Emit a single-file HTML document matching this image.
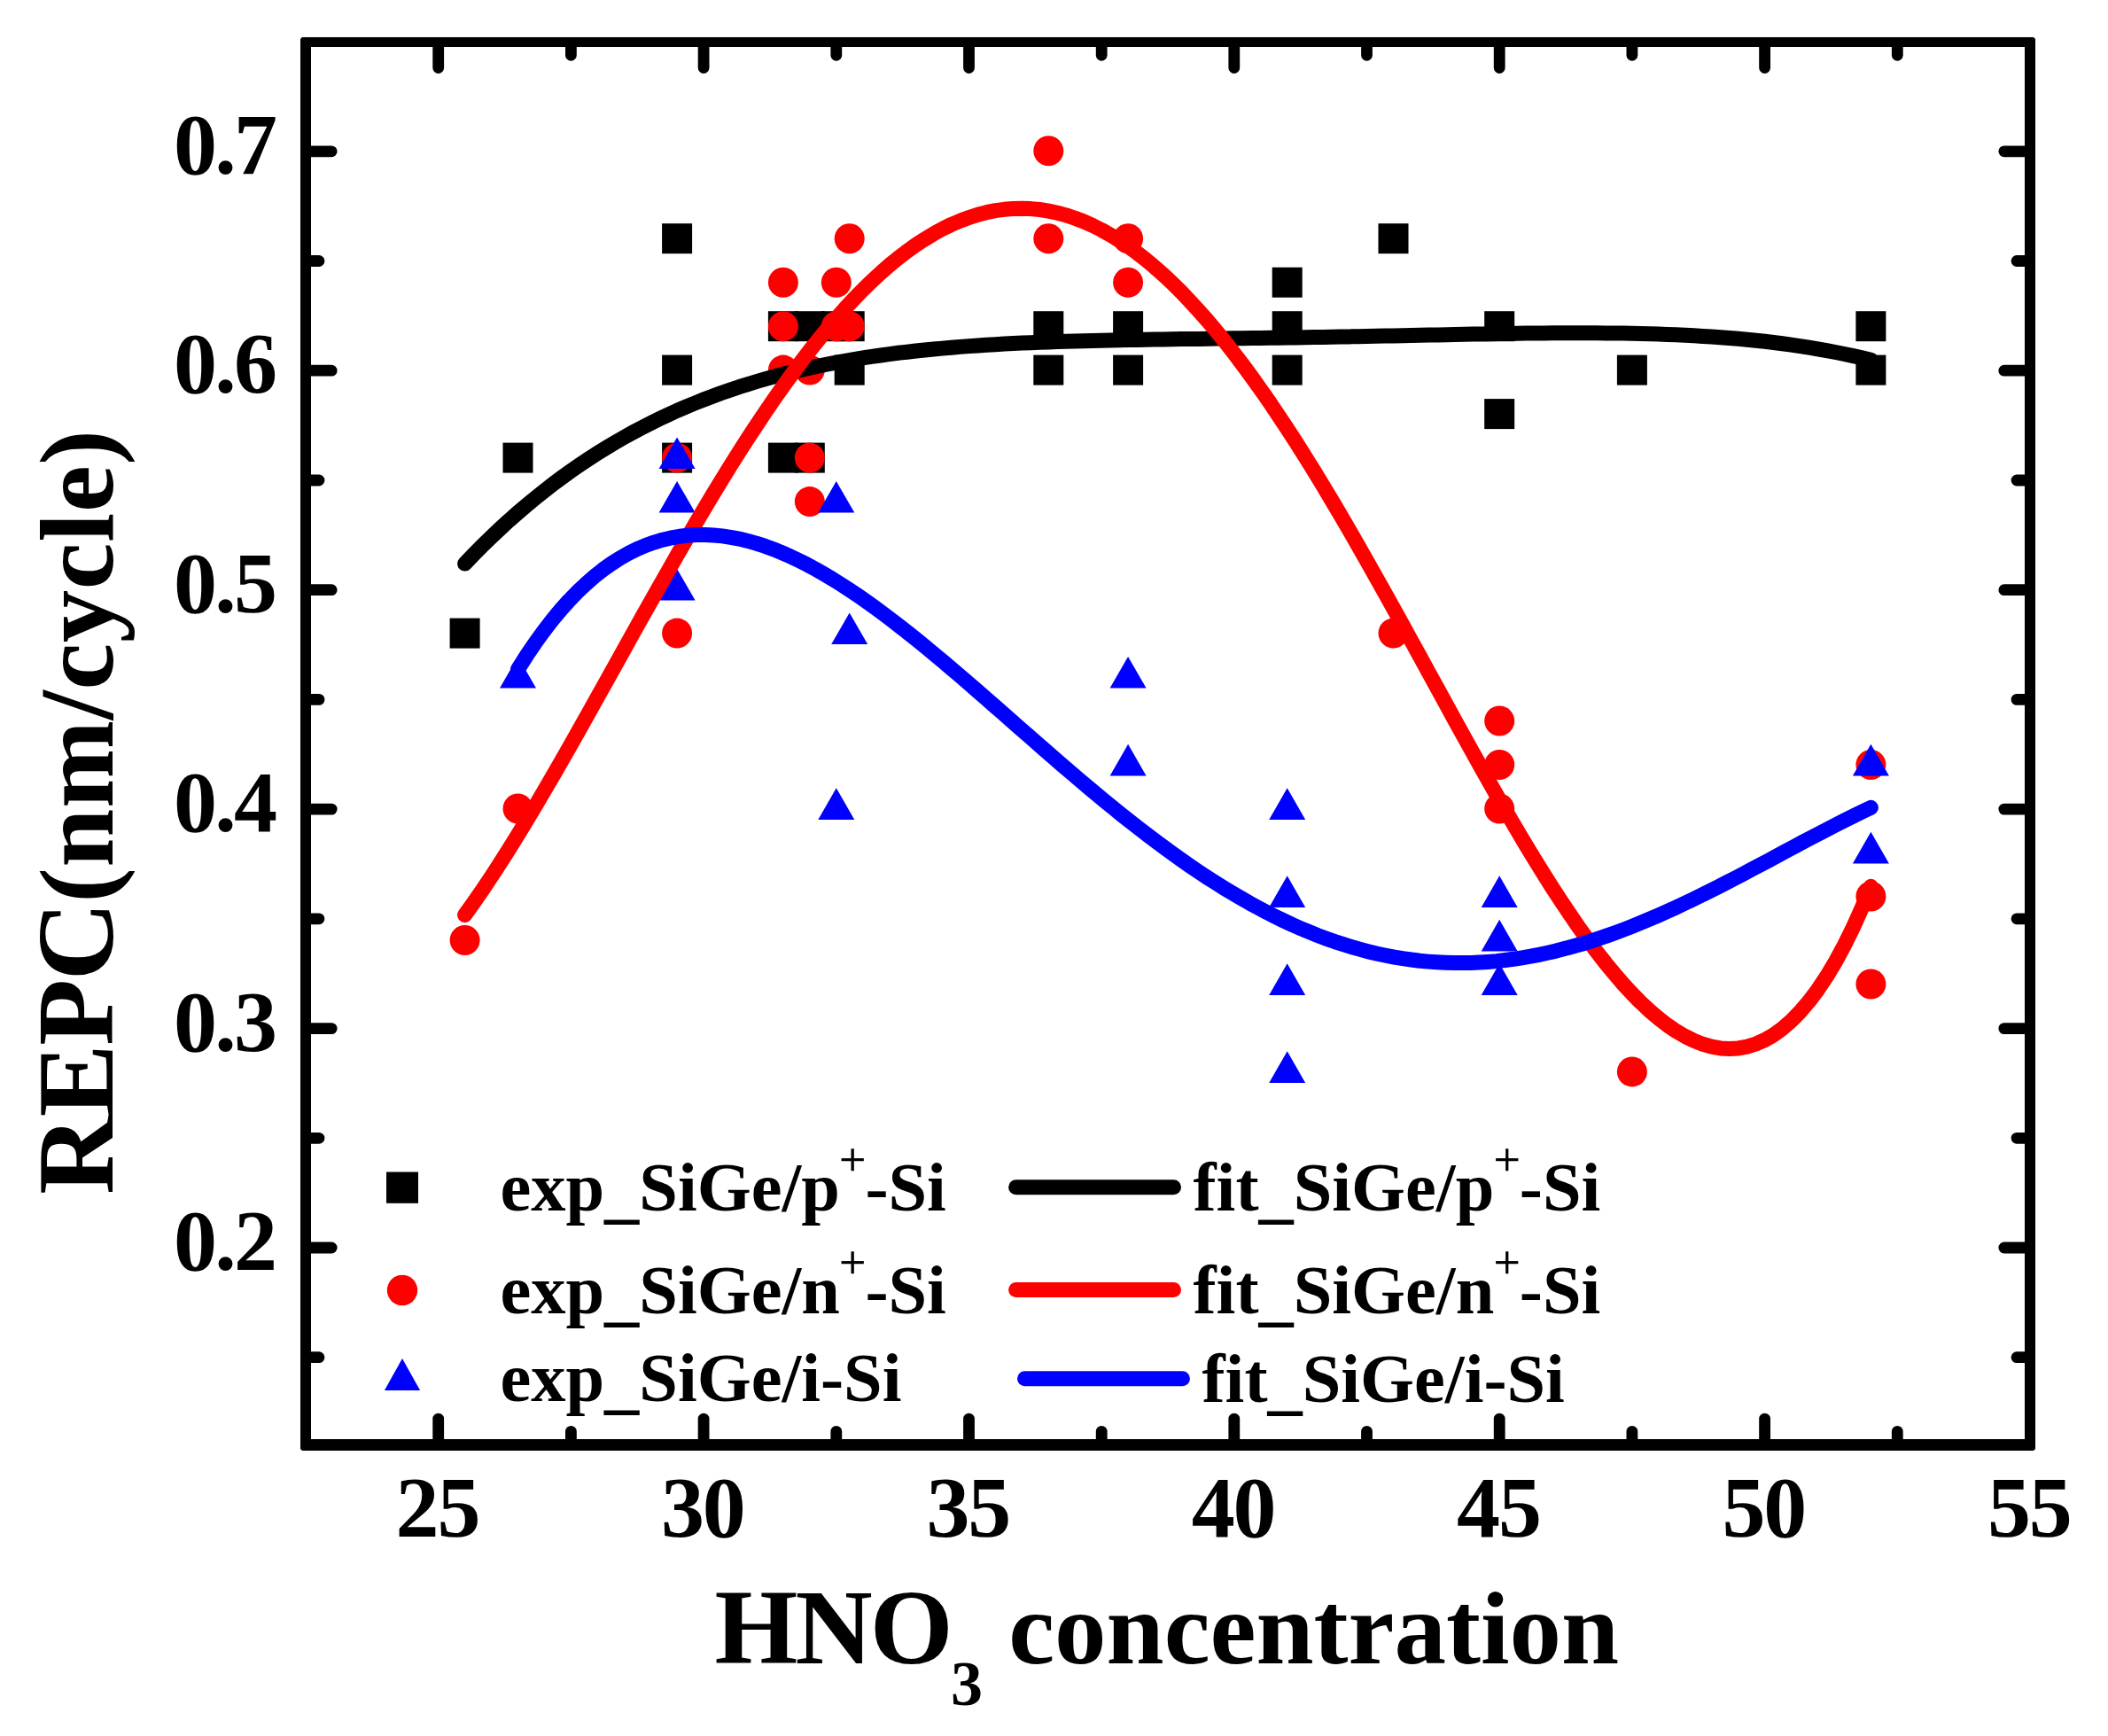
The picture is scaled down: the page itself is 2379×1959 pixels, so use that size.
<!DOCTYPE html>
<html lang="en"><head><meta charset="utf-8"><title>REPC vs HNO3 concentration</title>
<style>html,body{margin:0;padding:0;background:#fff}svg{display:block}text{font-family:"Liberation Serif","Times New Roman",serif;font-weight:bold;fill:#000;font-variant-ligatures:none;font-kerning:none}</style></head><body>
<svg width="2379" height="1959" viewBox="0 0 2379 1959">
<title>REPC(nm/cycle) versus HNO3 concentration</title>
<desc>Scatter plot with polynomial fits. X axis: HNO3 concentration, ticks 25 30 35 40 45 50 55. Y axis: REPC(nm/cycle), ticks 0.2 0.3 0.4 0.5 0.6 0.7. Legend: exp_SiGe/p+-Si, exp_SiGe/n+-Si, exp_SiGe/i-Si, fit_SiGe/p+-Si, fit_SiGe/n+-Si, fit_SiGe/i-Si.</desc>
<rect width="2379" height="1959" fill="#fff"/>
<g stroke="#000" stroke-width="12.8" stroke-linecap="round" fill="none">
<path d="M494.7 1627.3V1601.1M494.7 50.3V76.5"/>
<path d="M644.4 1627.3V1615.3M644.4 50.3V62.3"/>
<path d="M794.1 1627.3V1601.1M794.1 50.3V76.5"/>
<path d="M943.8 1627.3V1615.3M943.8 50.3V62.3"/>
<path d="M1093.5 1627.3V1601.1M1093.5 50.3V76.5"/>
<path d="M1243.2 1627.3V1615.3M1243.2 50.3V62.3"/>
<path d="M1392.8 1627.3V1601.1M1392.8 50.3V76.5"/>
<path d="M1542.5 1627.3V1615.3M1542.5 50.3V62.3"/>
<path d="M1692.2 1627.3V1601.1M1692.2 50.3V76.5"/>
<path d="M1841.9 1627.3V1615.3M1841.9 50.3V62.3"/>
<path d="M1991.6 1627.3V1601.1M1991.6 50.3V76.5"/>
<path d="M2141.3 1627.3V1615.3M2141.3 50.3V62.3"/>
<path d="M348.0 1531.7H360.0M2288.0 1531.7H2276.0"/>
<path d="M348.0 1408.0H374.2M2288.0 1408.0H2261.8"/>
<path d="M348.0 1284.3H360.0M2288.0 1284.3H2276.0"/>
<path d="M348.0 1160.6H374.2M2288.0 1160.6H2261.8"/>
<path d="M348.0 1036.8H360.0M2288.0 1036.8H2276.0"/>
<path d="M348.0 913.1H374.2M2288.0 913.1H2261.8"/>
<path d="M348.0 789.4H360.0M2288.0 789.4H2276.0"/>
<path d="M348.0 665.7H374.2M2288.0 665.7H2261.8"/>
<path d="M348.0 542.0H360.0M2288.0 542.0H2276.0"/>
<path d="M348.0 418.2H374.2M2288.0 418.2H2261.8"/>
<path d="M348.0 294.5H360.0M2288.0 294.5H2276.0"/>
<path d="M348.0 170.8H374.2M2288.0 170.8H2261.8"/>
</g>
<g fill="#000">
<rect x="507.6" y="697.6" width="34" height="34"/>
<rect x="567.5" y="499.6" width="34" height="34"/>
<rect x="747.1" y="252.2" width="34" height="34"/>
<rect x="747.1" y="400.6" width="34" height="34"/>
<rect x="747.1" y="499.6" width="34" height="34"/>
<rect x="866.9" y="351.2" width="34" height="34"/>
<rect x="866.9" y="499.6" width="34" height="34"/>
<rect x="896.8" y="351.2" width="34" height="34"/>
<rect x="896.8" y="499.6" width="34" height="34"/>
<rect x="926.8" y="351.2" width="34" height="34"/>
<rect x="941.7" y="351.2" width="34" height="34"/>
<rect x="941.7" y="400.6" width="34" height="34"/>
<rect x="1166.3" y="351.2" width="34" height="34"/>
<rect x="1166.3" y="400.6" width="34" height="34"/>
<rect x="1256.1" y="351.2" width="34" height="34"/>
<rect x="1256.1" y="400.6" width="34" height="34"/>
<rect x="1435.7" y="301.7" width="34" height="34"/>
<rect x="1435.7" y="351.2" width="34" height="34"/>
<rect x="1435.7" y="400.6" width="34" height="34"/>
<rect x="1555.5" y="252.2" width="34" height="34"/>
<rect x="1675.2" y="351.2" width="34" height="34"/>
<rect x="1675.2" y="450.1" width="34" height="34"/>
<rect x="1824.9" y="400.6" width="34" height="34"/>
<rect x="2094.4" y="351.2" width="34" height="34"/>
<rect x="2094.4" y="400.6" width="34" height="34"/>
</g><g fill="#f00">
<circle cx="524.6" cy="1061.0" r="17"/>
<circle cx="584.5" cy="912.5" r="17"/>
<circle cx="764.1" cy="516.6" r="17"/>
<circle cx="764.1" cy="714.6" r="17"/>
<circle cx="883.9" cy="318.7" r="17"/>
<circle cx="883.9" cy="368.2" r="17"/>
<circle cx="883.9" cy="417.6" r="17"/>
<circle cx="913.8" cy="417.6" r="17"/>
<circle cx="913.8" cy="516.6" r="17"/>
<circle cx="913.8" cy="566.1" r="17"/>
<circle cx="943.8" cy="318.7" r="17"/>
<circle cx="943.8" cy="368.2" r="17"/>
<circle cx="958.7" cy="269.2" r="17"/>
<circle cx="958.7" cy="368.2" r="17"/>
<circle cx="1183.3" cy="170.2" r="17"/>
<circle cx="1183.3" cy="269.2" r="17"/>
<circle cx="1273.1" cy="269.2" r="17"/>
<circle cx="1273.1" cy="318.7" r="17"/>
<circle cx="1572.5" cy="714.6" r="17"/>
<circle cx="1692.2" cy="813.5" r="17"/>
<circle cx="1692.2" cy="863.0" r="17"/>
<circle cx="1692.2" cy="912.5" r="17"/>
<circle cx="1841.9" cy="1209.4" r="17"/>
<circle cx="2111.4" cy="863.0" r="17"/>
<circle cx="2111.4" cy="1011.5" r="17"/>
<circle cx="2111.4" cy="1110.5" r="17"/>
</g><g fill="#00f">
<path d="M584.5 740.9L605.0 776.6H564.0Z"/>
<path d="M764.1 493.4L784.6 529.1H743.6Z"/>
<path d="M764.1 542.9L784.6 578.6H743.6Z"/>
<path d="M764.1 641.9L784.6 677.6H743.6Z"/>
<path d="M943.8 542.9L964.3 578.6H923.3Z"/>
<path d="M958.7 691.4L979.2 727.1H938.2Z"/>
<path d="M943.8 889.3L964.3 925.0H923.3Z"/>
<path d="M1273.1 740.9L1293.6 776.6H1252.6Z"/>
<path d="M1273.1 839.8L1293.6 875.5H1252.6Z"/>
<path d="M1452.7 889.3L1473.2 925.0H1432.2Z"/>
<path d="M1452.7 988.3L1473.2 1024.0H1432.2Z"/>
<path d="M1452.7 1087.3L1473.2 1123.0H1432.2Z"/>
<path d="M1452.7 1186.2L1473.2 1221.9H1432.2Z"/>
<path d="M1692.2 988.3L1712.7 1024.0H1671.7Z"/>
<path d="M1692.2 1037.8L1712.7 1073.5H1671.7Z"/>
<path d="M1692.2 1087.3L1712.7 1123.0H1671.7Z"/>
<path d="M2111.4 839.8L2131.9 875.5H2090.9Z"/>
<path d="M2111.4 938.8L2131.9 974.5H2090.9Z"/>
</g>
<polyline points="524.6,636.1 534.6,625.7 544.6,615.6 554.6,605.9 564.5,596.5 574.5,587.3 584.5,578.5 594.5,570.0 604.5,561.7 614.4,553.8 624.4,546.1 634.4,538.6 644.4,531.4 654.4,524.5 664.3,517.9 674.3,511.4 684.3,505.2 694.3,499.3 704.3,493.5 714.2,488.0 724.2,482.7 734.2,477.6 744.2,472.7 754.2,468.0 764.1,463.4 774.1,459.1 784.1,455.0 794.1,451.0 804.1,447.2 814.0,443.5 824.0,440.1 834.0,436.7 844.0,433.6 854.0,430.5 863.9,427.6 873.9,424.9 883.9,422.3 893.9,419.8 903.9,417.4 913.8,415.2 923.8,413.0 933.8,411.0 943.8,409.1 953.7,407.3 963.7,405.6 973.7,403.9 983.7,402.4 993.7,401.0 1003.6,399.6 1013.6,398.3 1023.6,397.2 1033.6,396.0 1043.6,395.0 1053.5,394.0 1063.5,393.1 1073.5,392.2 1083.5,391.4 1093.5,390.6 1103.4,389.9 1113.4,389.3 1123.4,388.7 1133.4,388.1 1143.4,387.6 1153.3,387.1 1163.3,386.7 1173.3,386.3 1183.3,385.9 1193.3,385.6 1203.2,385.2 1213.2,384.9 1223.2,384.7 1233.2,384.4 1243.2,384.2 1253.1,384.0 1263.1,383.7 1273.1,383.6 1283.1,383.4 1293.1,383.2 1303.0,383.1 1313.0,382.9 1323.0,382.8 1333.0,382.6 1342.9,382.5 1352.9,382.4 1362.9,382.2 1372.9,382.1 1382.9,382.0 1392.8,381.8 1402.8,381.7 1412.8,381.6 1422.8,381.4 1432.8,381.3 1442.7,381.2 1452.7,381.0 1462.7,380.9 1472.7,380.7 1482.7,380.5 1492.6,380.4 1502.6,380.2 1512.6,380.0 1522.6,379.9 1532.6,379.7 1542.5,379.5 1552.5,379.3 1562.5,379.1 1572.5,378.9 1582.5,378.7 1592.4,378.5 1602.4,378.3 1612.4,378.1 1622.4,377.9 1632.4,377.7 1642.3,377.5 1652.3,377.3 1662.3,377.1 1672.3,376.9 1682.3,376.7 1692.2,376.6 1702.2,376.4 1712.2,376.3 1722.2,376.1 1732.1,376.0 1742.1,375.9 1752.1,375.8 1762.1,375.8 1772.1,375.7 1782.0,375.7 1792.0,375.7 1802.0,375.8 1812.0,375.9 1822.0,376.0 1831.9,376.1 1841.9,376.3 1851.9,376.5 1861.9,376.7 1871.9,377.1 1881.8,377.4 1891.8,377.8 1901.8,378.3 1911.8,378.8 1921.8,379.4 1931.7,380.0 1941.7,380.7 1951.7,381.5 1961.7,382.3 1971.7,383.2 1981.6,384.2 1991.6,385.3 2001.6,386.5 2011.6,387.8 2021.6,389.1 2031.5,390.6 2041.5,392.1 2051.5,393.8 2061.5,395.6 2071.5,397.5 2081.4,399.5 2091.4,401.6 2101.4,403.8 2111.4,406.2" fill="none" stroke="#000" stroke-width="17" stroke-linecap="round" stroke-linejoin="round"/>
<polyline points="524.6,1032.5 534.6,1018.5 544.6,1004.1 554.6,989.1 564.5,973.8 574.5,958.1 584.5,942.0 594.5,925.6 604.5,908.9 614.4,892.0 624.4,874.9 634.4,857.5 644.4,840.0 654.4,822.3 664.3,804.6 674.3,786.7 684.3,768.8 694.3,750.9 704.3,732.9 714.2,715.0 724.2,697.1 734.2,679.4 744.2,661.7 754.2,644.1 764.1,626.6 774.1,609.4 784.1,592.3 794.1,575.4 804.1,558.7 814.0,542.3 824.0,526.1 834.0,510.3 844.0,494.7 854.0,479.5 863.9,464.6 873.9,450.0 883.9,435.8 893.9,422.0 903.9,408.6 913.8,395.6 923.8,383.1 933.8,371.0 943.8,359.3 953.7,348.1 963.7,337.4 973.7,327.1 983.7,317.4 993.7,308.1 1003.6,299.4 1013.6,291.2 1023.6,283.6 1033.6,276.4 1043.6,269.9 1053.5,263.9 1063.5,258.4 1073.5,253.5 1083.5,249.2 1093.5,245.5 1103.4,242.3 1113.4,239.7 1123.4,237.7 1133.4,236.3 1143.4,235.5 1153.3,235.2 1163.3,235.6 1173.3,236.5 1183.3,238.1 1193.3,240.2 1203.2,242.9 1213.2,246.2 1223.2,250.0 1233.2,254.5 1243.2,259.5 1253.1,265.1 1263.1,271.2 1273.1,277.9 1283.1,285.2 1293.1,293.0 1303.0,301.3 1313.0,310.2 1323.0,319.5 1333.0,329.4 1342.9,339.8 1352.9,350.7 1362.9,362.0 1372.9,373.9 1382.9,386.1 1392.8,398.9 1402.8,412.0 1412.8,425.6 1422.8,439.6 1432.8,453.9 1442.7,468.7 1452.7,483.8 1462.7,499.2 1472.7,515.0 1482.7,531.1 1492.6,547.4 1502.6,564.0 1512.6,580.9 1522.6,598.0 1532.6,615.4 1542.5,632.9 1552.5,650.6 1562.5,668.4 1572.5,686.4 1582.5,704.4 1592.4,722.5 1602.4,740.7 1612.4,759.0 1622.4,777.2 1632.4,795.4 1642.3,813.6 1652.3,831.6 1662.3,849.6 1672.3,867.5 1682.3,885.2 1692.2,902.7 1702.2,920.0 1712.2,937.0 1722.2,953.8 1732.1,970.2 1742.1,986.3 1752.1,1002.1 1762.1,1017.4 1772.1,1032.3 1782.0,1046.7 1792.0,1060.6 1802.0,1074.0 1812.0,1086.8 1822.0,1098.9 1831.9,1110.5 1841.9,1121.3 1851.9,1131.4 1861.9,1140.7 1871.9,1149.2 1881.8,1156.9 1891.8,1163.7 1901.8,1169.5 1911.8,1174.4 1921.8,1178.3 1931.7,1181.1 1941.7,1182.9 1951.7,1183.5 1961.7,1182.9 1971.7,1181.1 1981.6,1178.0 1991.6,1173.6 2001.6,1167.8 2011.6,1160.6 2021.6,1151.9 2031.5,1141.8 2041.5,1130.1 2051.5,1116.8 2061.5,1101.8 2071.5,1085.1 2081.4,1066.7 2091.4,1046.4 2101.4,1024.3 2111.4,1000.3" fill="none" stroke="#f00" stroke-width="17" stroke-linecap="round" stroke-linejoin="round"/>
<polyline points="584.5,755.3 594.1,740.1 603.7,725.9 613.3,712.6 622.9,700.1 632.5,688.5 642.1,677.8 651.7,667.9 661.3,658.8 670.9,650.4 680.5,642.8 690.1,636.0 699.7,629.8 709.3,624.4 718.9,619.6 728.6,615.5 738.2,612.1 747.8,609.2 757.4,606.9 767.0,605.3 776.6,604.1 786.2,603.6 795.8,603.5 805.4,604.0 815.0,604.9 824.6,606.3 834.2,608.1 843.8,610.4 853.4,613.1 863.0,616.2 872.6,619.7 882.2,623.6 891.8,627.8 901.4,632.4 911.0,637.2 920.6,642.4 930.2,647.9 939.8,653.6 949.4,659.6 959.0,665.8 968.6,672.3 978.2,679.0 987.8,685.9 997.4,693.0 1007.0,700.2 1016.6,707.7 1026.2,715.2 1035.8,722.9 1045.4,730.8 1055.0,738.7 1064.7,746.8 1074.3,754.9 1083.9,763.1 1093.5,771.4 1103.1,779.7 1112.7,788.1 1122.3,796.5 1131.9,804.9 1141.5,813.4 1151.1,821.8 1160.7,830.2 1170.3,838.6 1179.9,847.0 1189.5,855.4 1199.1,863.7 1208.7,871.9 1218.3,880.1 1227.9,888.2 1237.5,896.2 1247.1,904.2 1256.7,912.0 1266.3,919.8 1275.9,927.4 1285.5,934.9 1295.1,942.3 1304.7,949.6 1314.3,956.7 1323.9,963.7 1333.5,970.5 1343.1,977.2 1352.7,983.7 1362.3,990.1 1371.9,996.2 1381.5,1002.2 1391.2,1008.1 1400.8,1013.7 1410.4,1019.2 1420.0,1024.4 1429.6,1029.5 1439.2,1034.3 1448.8,1039.0 1458.4,1043.5 1468.0,1047.7 1477.6,1051.7 1487.2,1055.6 1496.8,1059.2 1506.4,1062.6 1516.0,1065.7 1525.6,1068.7 1535.2,1071.4 1544.8,1073.9 1554.4,1076.2 1564.0,1078.2 1573.6,1080.1 1583.2,1081.7 1592.8,1083.0 1602.4,1084.2 1612.0,1085.1 1621.6,1085.8 1631.2,1086.3 1640.8,1086.6 1650.4,1086.6 1660.0,1086.4 1669.6,1086.0 1679.2,1085.4 1688.8,1084.6 1698.4,1083.5 1708.0,1082.3 1717.7,1080.8 1727.3,1079.2 1736.9,1077.3 1746.5,1075.3 1756.1,1073.1 1765.7,1070.6 1775.3,1068.0 1784.9,1065.3 1794.5,1062.3 1804.1,1059.2 1813.7,1055.9 1823.3,1052.5 1832.9,1048.9 1842.5,1045.1 1852.1,1041.2 1861.7,1037.2 1871.3,1033.1 1880.9,1028.8 1890.5,1024.4 1900.1,1019.9 1909.7,1015.3 1919.3,1010.7 1928.9,1005.9 1938.5,1001.1 1948.1,996.1 1957.7,991.2 1967.3,986.2 1976.9,981.1 1986.5,976.0 1996.1,970.9 2005.7,965.7 2015.3,960.6 2024.9,955.5 2034.5,950.3 2044.1,945.3 2053.8,940.2 2063.4,935.2 2073.0,930.2 2082.6,925.4 2092.2,920.6 2101.8,915.9 2111.4,911.3" fill="none" stroke="#00f" stroke-width="17" stroke-linecap="round" stroke-linejoin="round"/>
<path fill="#000" fill-rule="evenodd" d="M341 42H2295L2297 44V1635L2295 1637H341L339 1635V44ZM351 53V1624H2285V53Z"/>
<g font-size="98" text-anchor="middle" letter-spacing="-2.2">
<text x="493.4" y="1733.8">25</text>
<text x="792.8" y="1733.8">30</text>
<text x="1092.2" y="1733.8">35</text>
<text x="1391.5" y="1733.8">40</text>
<text x="1690.9" y="1733.8">45</text>
<text x="1990.3" y="1733.8">50</text>
<text x="2289.7" y="1733.8">55</text>
</g><g font-size="98" text-anchor="end" letter-spacing="-2.8">
<text x="310.2" y="1433.2">0.2</text>
<text x="310.2" y="1185.8">0.3</text>
<text x="310.2" y="938.3">0.4</text>
<text x="310.2" y="690.9">0.5</text>
<text x="310.2" y="443.4">0.6</text>
<text x="310.2" y="196.0">0.7</text>
</g>
<text font-size="117" x="806.5" y="1877.4"><tspan font-size="120.7" letter-spacing="-2.84">HNO</tspan><tspan font-size="72" dy="46.6">3</tspan><tspan dy="-46.6"> concentration</tspan></text>
<text font-size="119" text-anchor="middle" letter-spacing="0.57" transform="translate(127.4 916.1) rotate(-90)"><tspan font-size="122.8" letter-spacing="-1.37">REPC</tspan>(nm/cycle)</text>
<rect x="436" y="1322.5" width="36" height="35.3" fill="#000"/>
<circle cx="454" cy="1456" r="17.2" fill="#f00"/>
<g fill="#00f"><path d="M454.0 1533.0L474.1 1569.1H433.9Z"/></g>
<g stroke-width="17" stroke-linecap="round"><path d="M1146.6 1339.7H1324.5" stroke="#000"/><path d="M1146.6 1455.4H1324.5" stroke="#f00"/><path d="M1156.5 1555.7H1334.5" stroke="#00f"/></g>
<text font-size="78.4" x="564.5" y="1366.2">exp<tspan dy="5">_</tspan><tspan dy="-5">SiGe/p</tspan><tspan font-size="53" font-weight="normal" stroke="#000" stroke-width="0.6" dx="-0.6" dy="-40">+</tspan><tspan dx="-0.7" dy="40">-Si</tspan></text>
<text font-size="78.4" x="564.5" y="1481.5">exp<tspan dy="5">_</tspan><tspan dy="-5">SiGe/n</tspan><tspan font-size="53" font-weight="normal" stroke="#000" stroke-width="0.6" dx="-0.6" dy="-40">+</tspan><tspan dx="-0.7" dy="40">-Si</tspan></text>
<text font-size="78.4" x="564.5" y="1581.2">exp<tspan dy="5">_</tspan><tspan dy="-5">SiGe/i</tspan>-Si</text>
<text font-size="78.4" x="1346.5" y="1366.1">fit<tspan dy="5">_</tspan><tspan dy="-5">SiGe/p</tspan><tspan font-size="53" font-weight="normal" stroke="#000" stroke-width="0.6" dx="-0.6" dy="-40">+</tspan><tspan dx="-0.7" dy="40">-Si</tspan></text>
<text font-size="78.4" x="1346.5" y="1482">fit<tspan dy="5">_</tspan><tspan dy="-5">SiGe/n</tspan><tspan font-size="53" font-weight="normal" stroke="#000" stroke-width="0.6" dx="-0.6" dy="-40">+</tspan><tspan dx="-0.7" dy="40">-Si</tspan></text>
<text font-size="78.4" x="1356.5" y="1582">fit<tspan dy="5">_</tspan><tspan dy="-5">SiGe/i</tspan>-Si</text>
</svg></body></html>
